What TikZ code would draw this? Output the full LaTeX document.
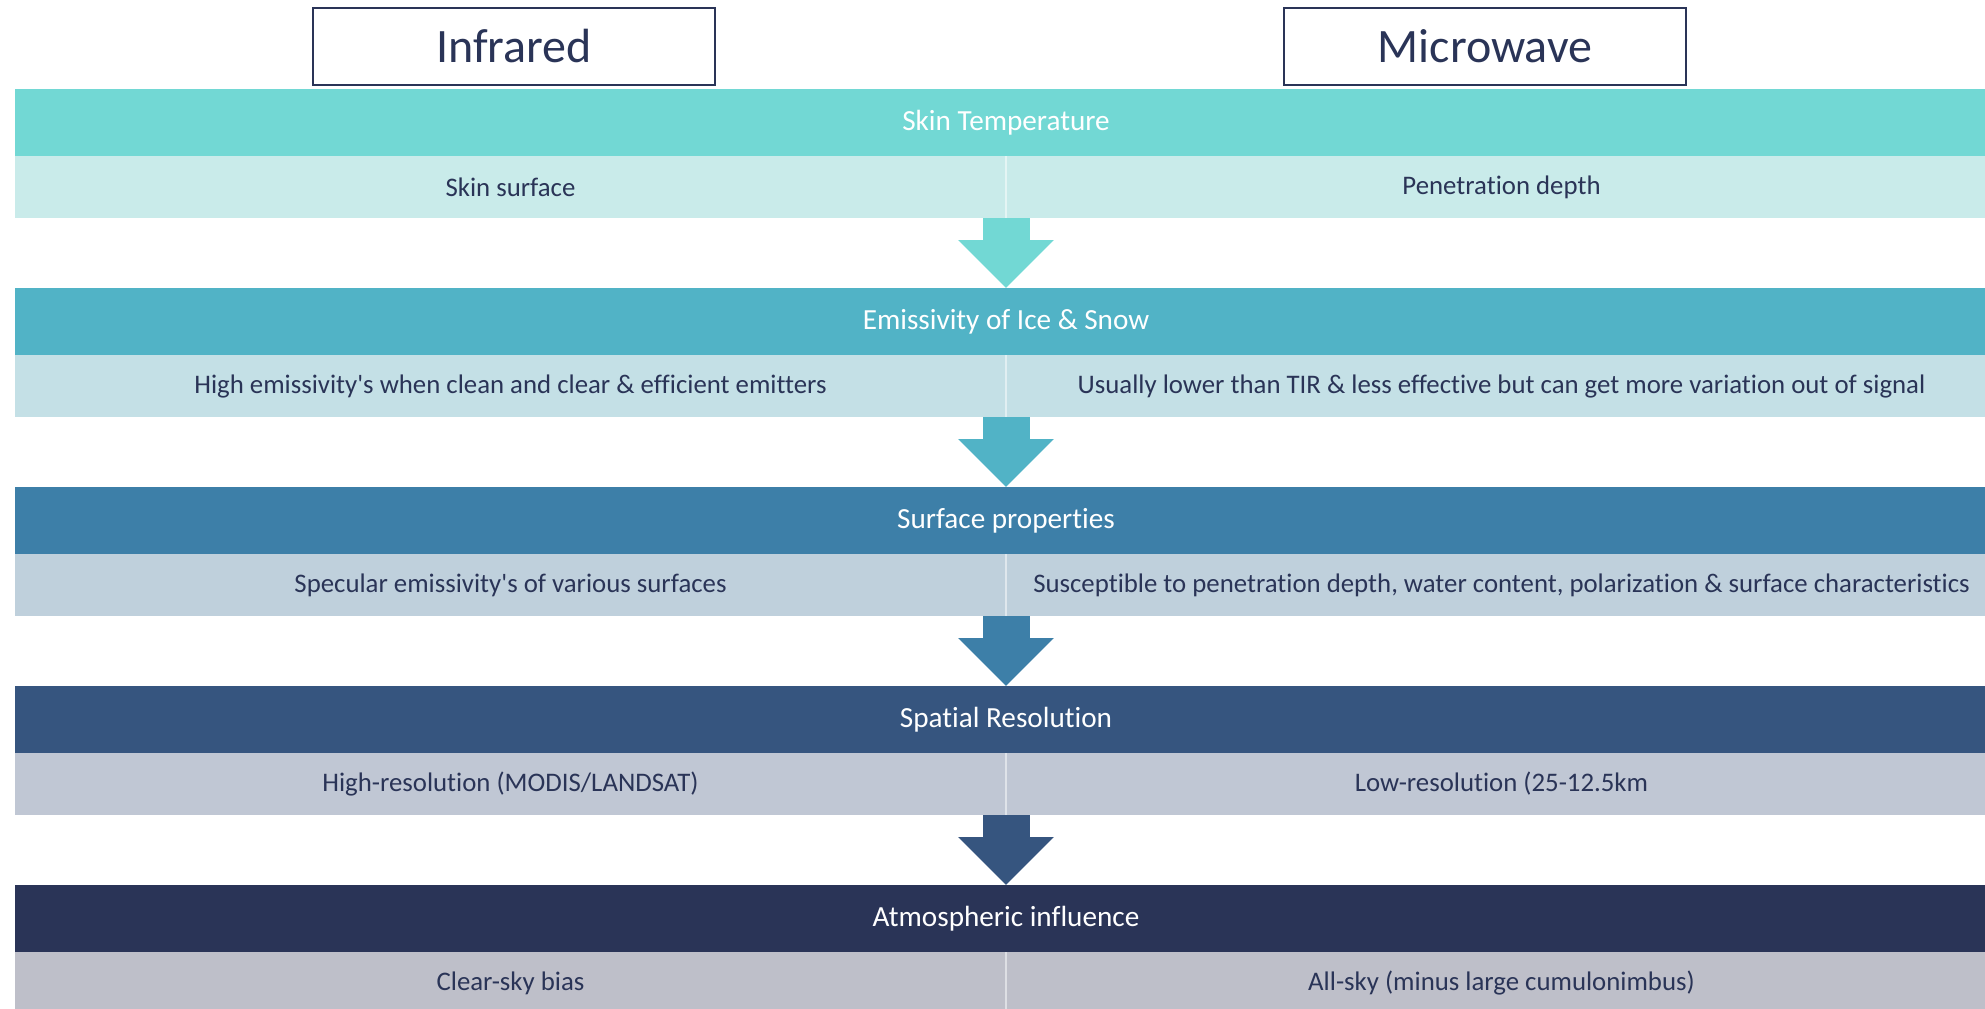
\documentclass[tikz,border=0pt]{standalone}
\usepackage{fontspec}
\setmainfont{Carlito}[Ligatures={TeX,NoCommon}]
\usetikzlibrary{arrows.meta, positioning}

\definecolor{navy}{HTML}{2A3457}
\definecolor{skinHead}{HTML}{72D8D4}
\definecolor{skinCell}{HTML}{C9EBEA}
\definecolor{emisHead}{HTML}{51B3C6}
\definecolor{emisCell}{HTML}{C4E0E6}
\definecolor{surfHead}{HTML}{3D7FA8}
\definecolor{surfCell}{HTML}{BFD0DC}
\definecolor{spatHead}{HTML}{36557F}
\definecolor{spatCell}{HTML}{C0C7D4}
\definecolor{atmoHead}{HTML}{2A3457}
\definecolor{atmoCell}{HTML}{BEBFC9}

\begin{document}
\begin{tikzpicture}
  [x=0.5pt, y=-0.5pt,
    title/.style ={
        rectangle,
        draw=navy,
        line width=1pt,
        minimum width=201pt,
        minimum height=38.5pt,
        text=navy,
        font=\fontsize{24}{28}\selectfont,
      },
    header/.style ={
        rectangle,
        minimum width=991pt,
        minimum height=33.5pt,
        inner sep=0pt, outer sep=0pt,
        text=white,
        font=\fontsize{14.6}{17}\selectfont,
      },
    cell/.style ={
        rectangle,
        anchor=north west,
        minimum width=495.5pt,
        minimum height=31pt,
        inner sep=0pt, outer sep=0pt,
        text=navy,
        font=\fontsize{13.4}{16}\selectfont,
      },
    flow/.style ={line width=23.5pt, -{Triangle[length=24pt, width=46.5pt]}},
    divider/.style ={draw=white, opacity=0.5, line width=0.8pt},
  ]
  \useasboundingbox (0,0) rectangle (1985,1008);

  \node[title] (infrared) at (514,46.5) {Infrared};
  \node[title] (microwave) at (1485,46.5) {Microwave};

  % skin temperature
  \node[header, fill=skinHead] (skinH) at (1006,122.5) {Skin Temperature};
  \node[cell, fill=skinCell] (skinL) at (skinH.south west) {Skin surface};
  \node[cell, fill=skinCell] (skinR) at (skinL.north east) {Penetration depth};

  % emissivity
  \node[header, fill=emisHead] (emisH) at (1006,321.5) {Emissivity of Ice \& Snow};
  \node[cell, fill=emisCell] (emisL) at (emisH.south west) {High emissivity\textquotesingle s when clean and clear \& efficient emitters};
  \node[cell, fill=emisCell] (emisR) at (emisL.north east) {Usually lower than TIR \& less effective but can get more variation out of signal};

  % surface properties
  \node[header, fill=surfHead] (surfH) at (1006,520.5) {Surface properties};
  \node[cell, fill=surfCell] (surfL) at (surfH.south west) {Specular emissivity\textquotesingle s of various surfaces};
  \node[cell, fill=surfCell] (surfR) at (surfL.north east) {Susceptible to penetration depth, water content, polarization \& surface characteristics};

  % spatial resolution
  \node[header, fill=spatHead] (spatH) at (1006,719.5) {Spatial Resolution};
  \node[cell, fill=spatCell] (spatL) at (spatH.south west) {High-resolution (MODIS/LANDSAT)};
  \node[cell, fill=spatCell] (spatR) at (spatL.north east) {Low-resolution (25-12.5km};

  % atmospheric influence
  \node[header, fill=atmoHead] (atmoH) at (1006,918.5) {Atmospheric influence};
  \node[cell, fill=atmoCell] (atmoL) at (atmoH.south west) {Clear-sky bias};
  \node[cell, fill=atmoCell] (atmoR) at (atmoL.north east) {All-sky (minus large cumulonimbus)};

  \draw[divider] (skinL.north east) -- (skinL.south east);
  \draw[divider] (emisL.north east) -- (emisL.south east);
  \draw[divider] (surfL.north east) -- (surfL.south east);
  \draw[divider] (spatL.north east) -- (spatL.south east);
  \draw[divider] (atmoL.north east) -- (atmoL.south east);

  \draw[flow, skinHead] (skinL.south east) -- (skinL.south east |- emisH.north);
  \draw[flow, emisHead] (emisL.south east) -- (emisL.south east |- surfH.north);
  \draw[flow, surfHead] (surfL.south east) -- (surfL.south east |- spatH.north);
  \draw[flow, spatHead] (spatL.south east) -- (spatL.south east |- atmoH.north);
\end{tikzpicture}
\end{document}
